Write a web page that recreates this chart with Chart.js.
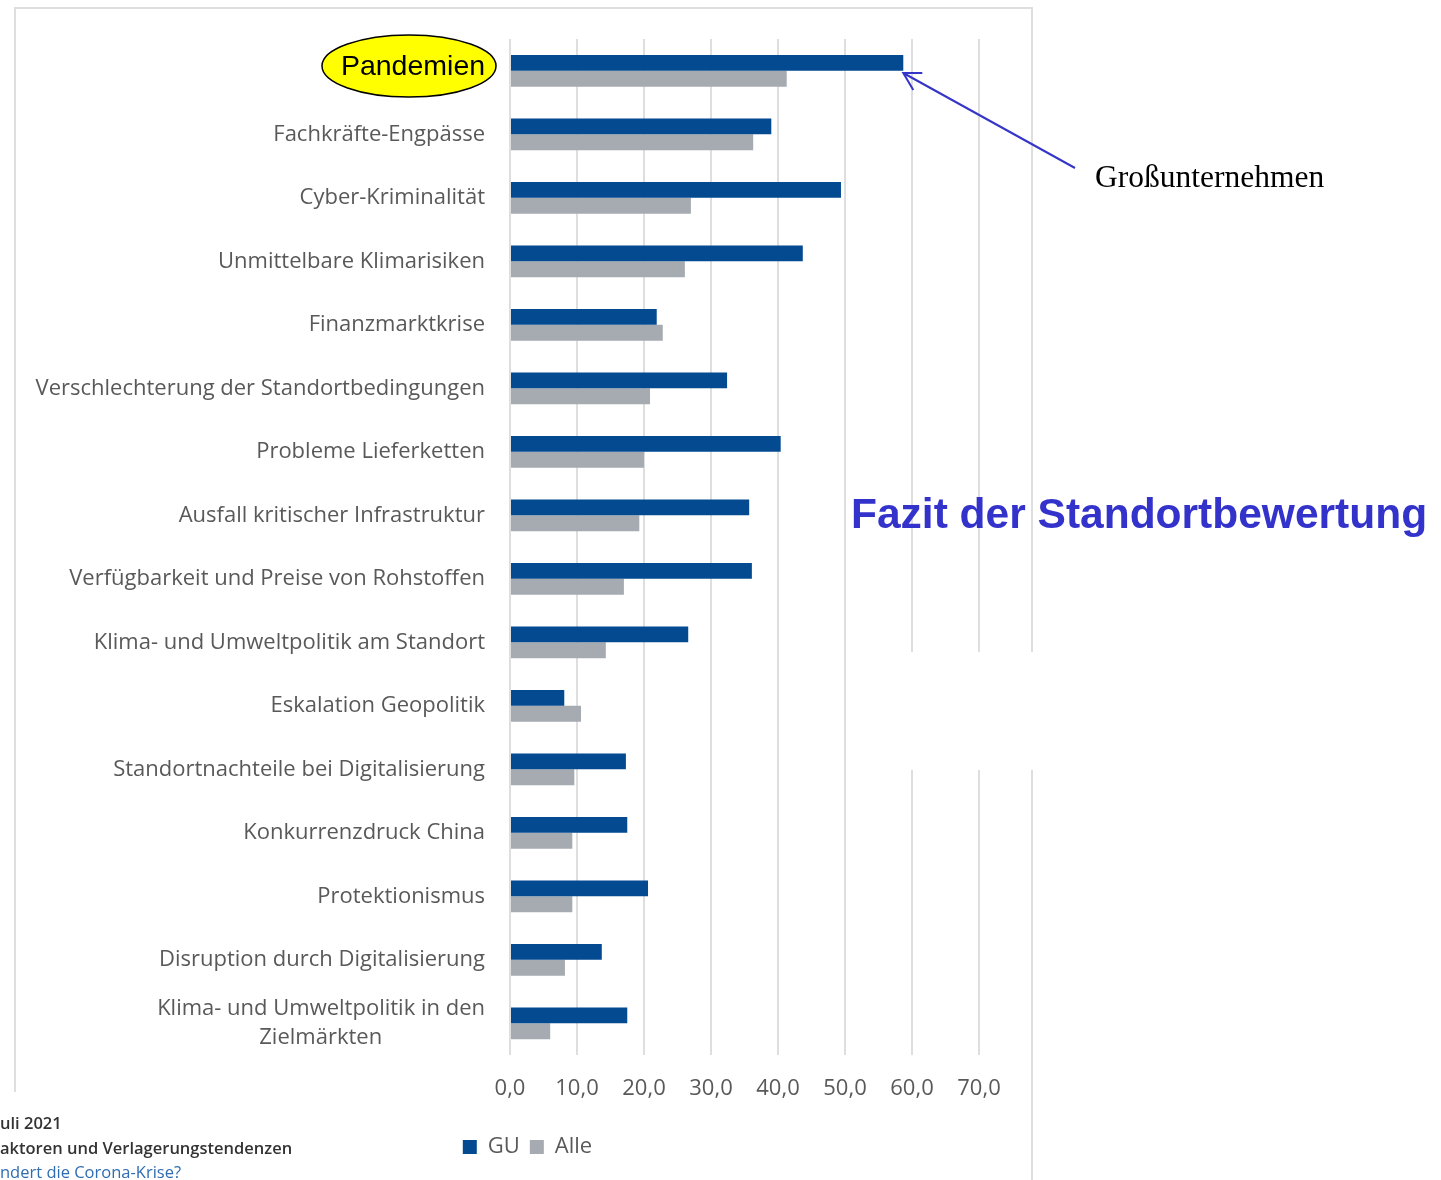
<!DOCTYPE html>
<html>
<head>
<meta charset="utf-8">
<script src="https://cdn.jsdelivr.net/npm/chart.js@4"></script>
<style>
  body { margin: 0; background: #fff; }
</style>
</head>
<body>
<canvas id="risks" width="1441" height="1180"></canvas>
<script>
const categories = [
	'Pandemien',
	'Fachkräfte-Engpässe',
	'Cyber-Kriminalität',
	'Unmittelbare Klimarisiken',
	'Finanzmarktkrise',
	'Verschlechterung der Standortbedingungen',
	'Probleme Lieferketten',
	'Ausfall kritischer Infrastruktur',
	'Verfügbarkeit und Preise von Rohstoffen',
	'Klima- und Umweltpolitik am Standort',
	'Eskalation Geopolitik',
	'Standortnachteile bei Digitalisierung',
	'Konkurrenzdruck China',
	'Protektionismus',
	'Disruption durch Digitalisierung',
	['Klima- und Umweltpolitik in den', 'Zielmärkten']
];
const guValues = [58.7, 39.0, 49.4, 43.7, 21.9, 32.4, 40.4, 35.7, 36.1, 26.6, 8.1, 17.3, 17.5, 20.6, 13.7, 17.5];
const alleValues = [41.3, 36.3, 27.0, 26.1, 22.8, 20.9, 20.0, 19.3, 17.0, 14.3, 10.6, 9.6, 9.3, 9.3, 8.2, 6.0];
const xTicks = [0, 10, 20, 30, 40, 50, 60, 70];

const labelFont = "'Open Sans', sans-serif";

// legend sits a bit right of the centre of the page
const legendShift = {
	id: 'legendShift',
	afterLayout(chart) {
		chart.legend.left += 38;
		chart.legend.right += 38;
	}
};

// frame, call-outs and footer text drawn on top of the chart
const overlay = {
	id: 'overlay',
	afterDraw(chart) {
		const ctx = chart.ctx;
		ctx.save();

		// thin page frame
		ctx.strokeStyle = '#dedede';
		ctx.lineWidth = 2;
		ctx.beginPath();
		ctx.moveTo(15, 1092);
		ctx.lineTo(15, 8);
		ctx.lineTo(1032, 8);
		ctx.lineTo(1032, 1180);
		ctx.stroke();

		// white patch that cuts the right grid lines
		ctx.fillStyle = '#fff';
		ctx.fillRect(852, 652, 190, 118);

		// yellow ellipse over the first label
		ctx.beginPath();
		ctx.ellipse(409, 66, 87, 31, 0, 0, Math.PI * 2);
		ctx.fillStyle = '#ffff00';
		ctx.fill();
		ctx.strokeStyle = '#000';
		ctx.lineWidth = 1.5;
		ctx.stroke();
		ctx.fillStyle = '#000';
		ctx.font = "28.5px 'Liberation Sans', Arial, sans-serif";
		ctx.textAlign = 'center';
		ctx.textBaseline = 'middle';
		ctx.fillText('Pandemien', 413, 67);

		// arrow to the GU bar
		const tip = { x: chart.scales.x.getPixelForValue(guValues[0]), y: 73 };
		ctx.strokeStyle = '#3535c8';
		ctx.lineWidth = 2;
		ctx.beginPath();
		ctx.moveTo(1075, 168);
		ctx.lineTo(tip.x, tip.y);
		ctx.moveTo(tip.x + 19, tip.y);
		ctx.lineTo(tip.x, tip.y);
		ctx.lineTo(tip.x + 10, tip.y + 17);
		ctx.stroke();

		ctx.fillStyle = '#000';
		ctx.font = "31.5px 'Liberation Serif', 'Times New Roman', serif";
		ctx.textAlign = 'left';
		ctx.textBaseline = 'alphabetic';
		ctx.fillText('Großunternehmen', 1095, 187);

		ctx.fillStyle = '#3333cc';
		ctx.font = "bold 42.5px 'Liberation Sans', Arial, sans-serif";
		ctx.fillText('Fazit der Standortbewertung', 851, 528);

		// cut-off source text at the bottom left
		ctx.font = "600 16.5px " + labelFont;
		ctx.fillStyle = '#333';
		ctx.fillText('uli 2021', 0, 1129);
		ctx.fillText('aktoren und Verlagerungstendenzen', 0, 1154);
		ctx.fillStyle = '#2e6db4';
		ctx.font = "16.5px " + labelFont;
		ctx.fillText('ndert die Corona-Krise?', 0, 1178);

		ctx.restore();
	}
};

const risksdata = {
	labels: categories,
	datasets: [{
		label: 'GU',
		data: guValues,
		backgroundColor: '#034a90',
		borderWidth: 0,
		categoryPercentage: 0.5,
		barPercentage: 1.0
	}, {
		label: 'Alle',
		data: alleValues,
		backgroundColor: '#a6abb1',
		borderWidth: 0,
		categoryPercentage: 0.5,
		barPercentage: 1.0
	}]
};

const risksconfig = {
	type: 'bar',
	data: risksdata,
	plugins: [legendShift, overlay],
	options: {
		indexAxis: 'y',
		responsive: false,
		animation: false,
		layout: {
			padding: { left: 0, right: 462, top: 39, bottom: 12 }
		},
		scales: {
			y: {
				afterFit(s) {
					s.width = 510;
					s.paddingTop = 0;
					s.paddingBottom = 0;
				},
				grid: { display: false, drawTicks: false },
				border: { display: false },
				ticks: {
					autoSkip: false,
					color: '#595959',
					padding: 25,
					font: { family: labelFont, size: 22, lineHeight: 1.36 },
					// second line of a wrapped label is centred under the first
					callback(value) {
						const label = this.getLabelForValue(value);
						if (!Array.isArray(label)) return label;
						return [label[0], label[1] + ' '.repeat(18)];
					}
				}
			},
			x: {
				min: 0,
				max: 70,
				afterFit(s) { s.height = 71; },
				afterBuildTicks(s) { s.ticks = xTicks.map(v => ({ value: v })); },
				grid: { color: '#dedede', lineWidth: 2, drawTicks: false },
				border: { display: false },
				ticks: {
					color: '#595959',
					padding: 21,
					font: { family: labelFont, size: 22 },
					callback: v => v.toFixed(1).replace('.', ',')
				}
			}
		},
		plugins: {
			legend: {
				position: 'bottom',
				labels: {
					color: '#595959',
					boxWidth: 14,
					boxHeight: 14,
					padding: 10,
					font: { family: labelFont, size: 22 }
				}
			},
			tooltip: { enabled: false }
		}
	}
};

const riskschart = new Chart(
	document.getElementById('risks'),
	risksconfig
);
</script>
</body>
</html>
